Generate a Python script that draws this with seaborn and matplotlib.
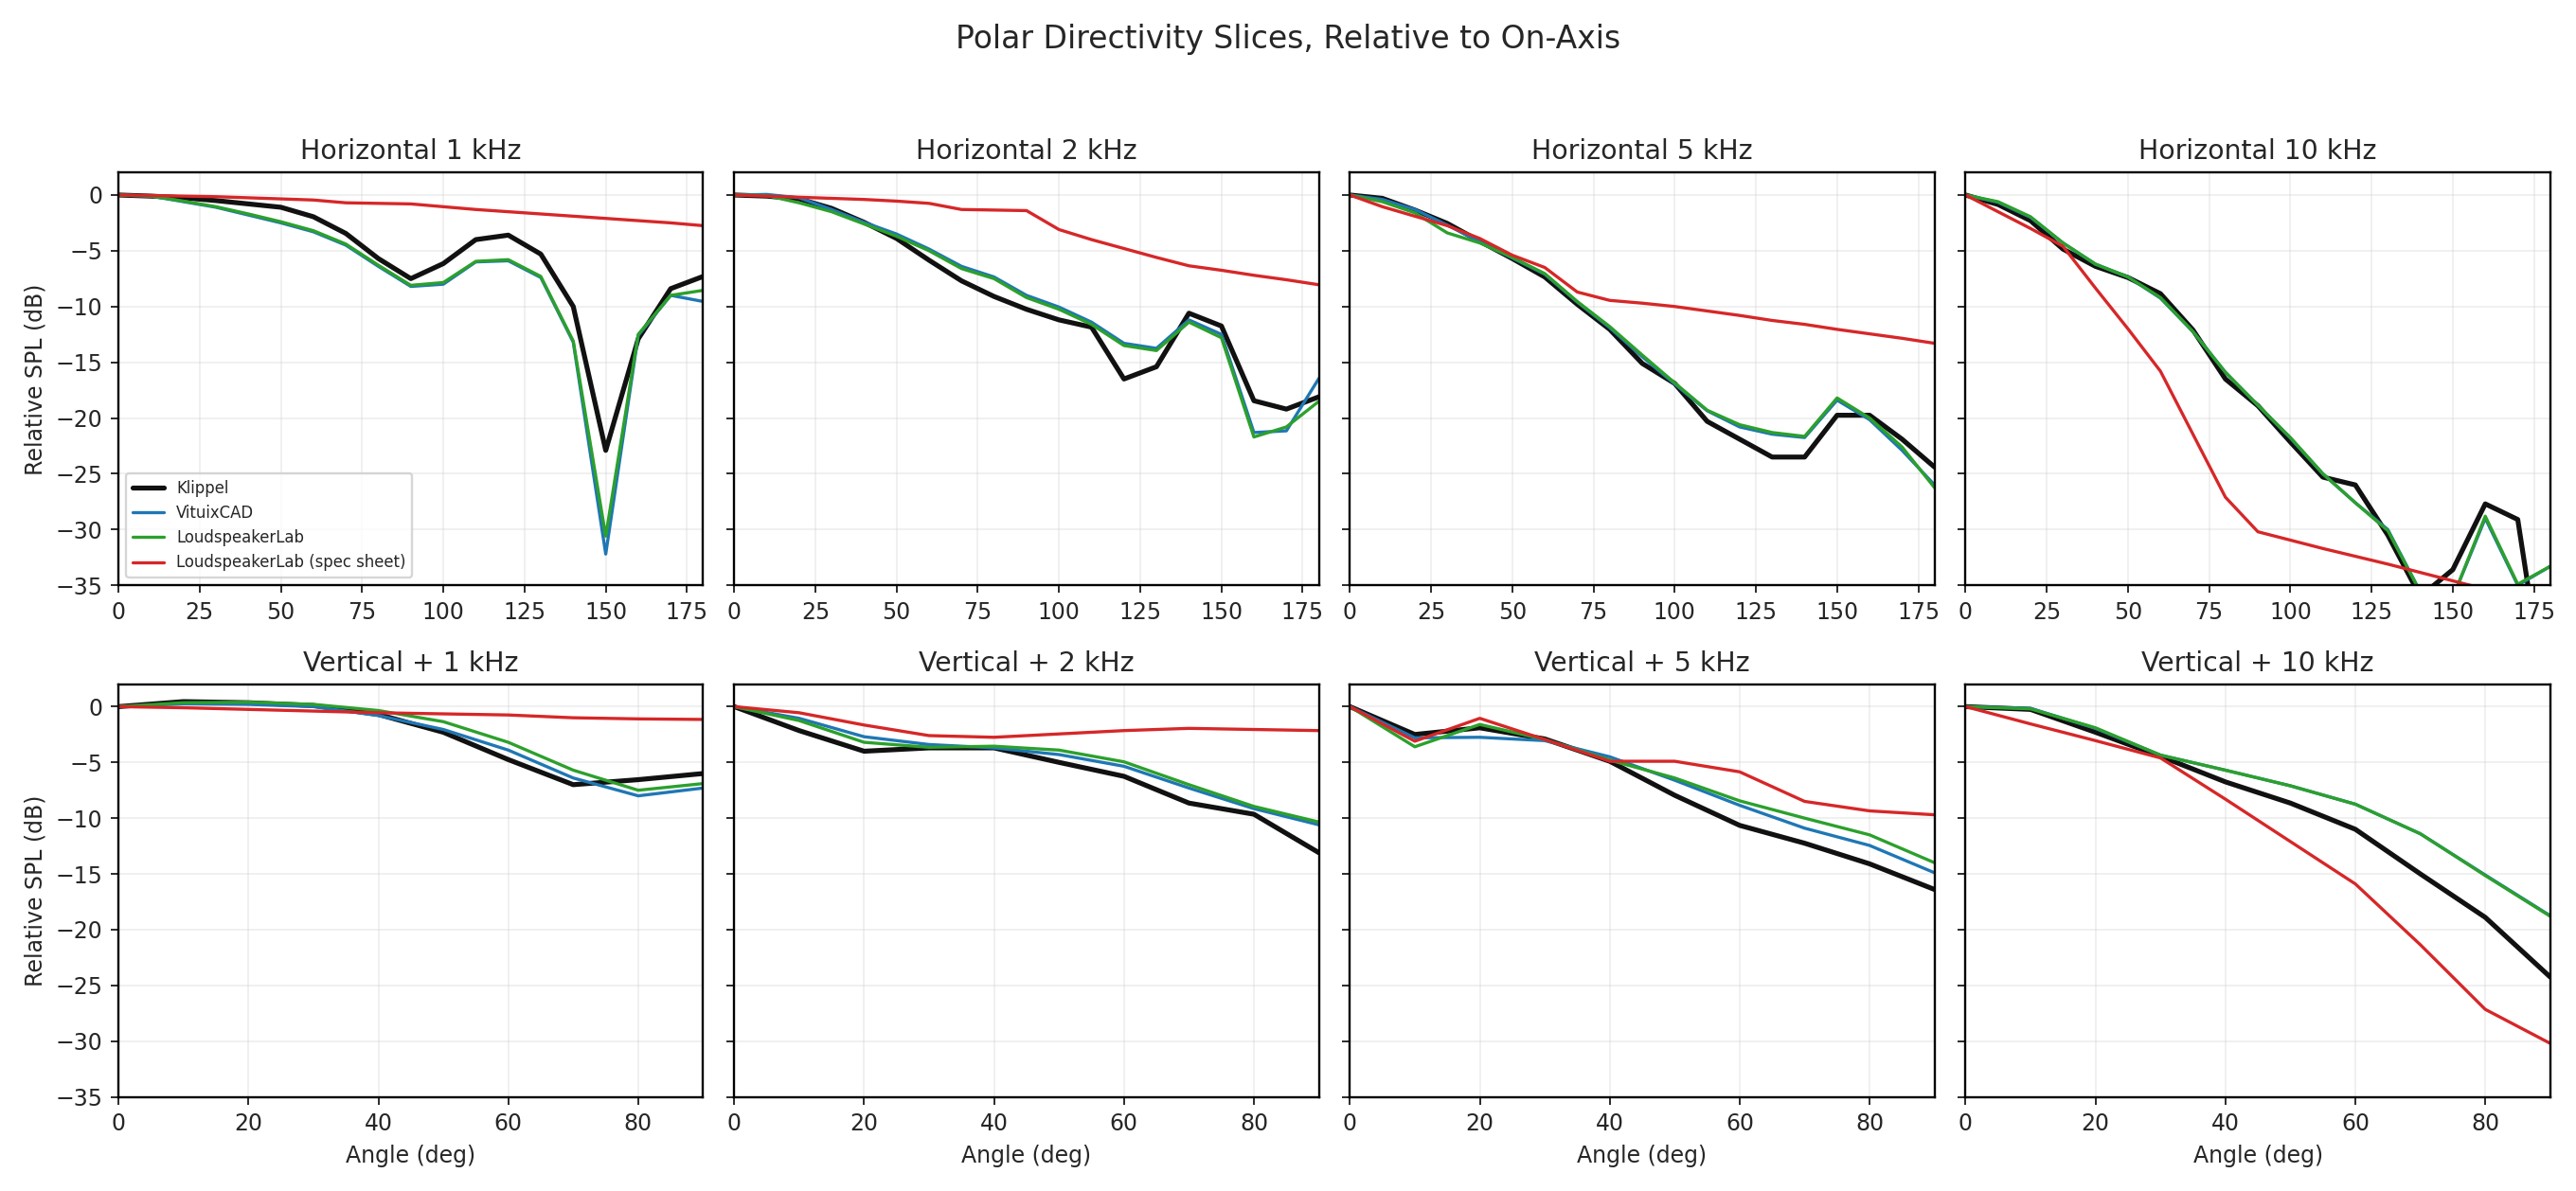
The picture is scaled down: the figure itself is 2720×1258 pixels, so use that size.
import numpy as np
import pandas as pd
import matplotlib
matplotlib.use("Agg")
import matplotlib.pyplot as plt
import seaborn as sns

# angles (deg)
h_angles = list(range(0, 181, 10))
v_angles = list(range(0, 91, 10))

# ---- Horizontal slices (relative dB) ----
h1k_klippel = [0, -0.1, -0.25, -0.5, -0.8, -1.1, -1.95, -3.45, -5.7, -7.5, -6.15, -4.0, -3.6, -5.3, -10.0, -22.9, -12.9, -8.4, -7.3]
h1k_vituix = [0, -0.1, -0.6, -1.1, -1.8, -2.5, -3.3, -4.5, -6.4, -8.2, -8.0, -6.0, -5.9, -7.4, -13.2, -32.2, -12.6, -9.0, -9.55]
h1k_lsl = [0, -0.1, -0.55, -1.05, -1.7, -2.4, -3.2, -4.4, -6.3, -8.1, -7.85, -5.95, -5.8, -7.3, -13.1, -30.6, -12.5, -9.0, -8.55]
h1k_spec = [0, -0.05, -0.1, -0.15, -0.25, -0.35, -0.45, -0.7, -0.75, -0.8, -1.05, -1.3, -1.5, -1.7, -1.9, -2.1, -2.3, -2.5, -2.75]

h2k_klippel = [0, -0.1, -0.35, -1.2, -2.45, -3.9, -5.85, -7.7, -9.1, -10.25, -11.2, -11.85, -16.5, -15.4, -10.6, -11.75, -18.45, -19.2, -18.1]
h2k_vituix = [0, 0.05, -0.25, -1.3, -2.45, -3.5, -4.85, -6.4, -7.35, -9.0, -10.05, -11.4, -13.3, -13.75, -11.2, -12.5, -21.3, -21.15, -16.45]
h2k_lsl = [0, -0.05, -0.7, -1.5, -2.6, -3.7, -5.0, -6.6, -7.5, -9.2, -10.25, -11.6, -13.5, -13.95, -11.4, -12.8, -21.7, -20.8, -18.5]
h2k_spec = [0, -0.1, -0.2, -0.3, -0.4, -0.55, -0.75, -1.3, -1.35, -1.4, -3.1, -4.0, -4.8, -5.6, -6.35, -6.75, -7.2, -7.6, -8.05]

h5k_klippel = [0, -0.3, -1.35, -2.55, -4.15, -5.7, -7.35, -9.8, -12.05, -15.1, -16.9, -20.3, -21.9, -23.5, -23.5, -19.75, -19.75, -21.9, -24.4]
h5k_vituix = [0, -0.4, -1.3, -2.7, -4.2, -5.65, -7.1, -9.6, -11.9, -14.5, -16.95, -19.35, -20.8, -21.45, -21.75, -18.4, -20.15, -22.9, -26.0]
h5k_lsl = [0, -0.6, -1.6, -3.4, -4.3, -5.6, -7.05, -9.55, -11.8, -14.35, -16.85, -19.3, -20.6, -21.3, -21.65, -18.2, -20.0, -22.6, -26.25]
h5k_spec = [0, -1.05, -1.9, -2.75, -3.9, -5.4, -6.5, -8.7, -9.45, -9.7, -10.0, -10.4, -10.8, -11.25, -11.6, -12.05, -12.45, -12.85, -13.3]

h10k_klippel = [0, -0.85, -2.3, -4.85, -6.4, -7.4, -8.85, -12.1, -16.5, -18.9, -22.15, -25.3, -26.0, -30.5, -36.0, -33.6, -27.7, -29.1, -48.0]
h10k_vituix = [0, -0.65, -2.0, -4.3, -6.2, -7.35, -9.25, -12.25, -15.9, -18.85, -21.8, -25.0, -27.6, -30.0, -35.6, -36.1, -29.0, -35.0, -33.3]
h10k_lsl = [0, -0.6, -1.95, -4.3, -6.2, -7.35, -9.2, -12.25, -15.9, -18.85, -21.75, -25.0, -27.6, -30.1, -35.6, -36.1, -28.8, -34.9, -33.3]
h10k_spec = [0, -1.5, -3.0, -4.6, -8.35, -12.0, -15.8, -21.45, -27.1, -30.2, -30.95, -31.7, -32.4, -33.1, -33.85, -34.6, -35.35, -36.1, -36.9]

# ---- Vertical + slices (relative dB) ----
v1k_klippel = [0, 0.45, 0.35, 0.1, -0.7, -2.3, -4.75, -7.0, -6.55, -6.0]
v1k_vituix = [0, 0.25, 0.2, 0.0, -0.8, -2.05, -3.9, -6.4, -8.0, -7.3]
v1k_lsl = [0, 0.35, 0.4, 0.2, -0.35, -1.35, -3.2, -5.7, -7.5, -6.9]
v1k_spec = [0, -0.1, -0.25, -0.4, -0.55, -0.65, -0.75, -1.0, -1.1, -1.15]

v2k_klippel = [0, -2.15, -4.0, -3.7, -3.7, -5.0, -6.25, -8.65, -9.65, -13.1]
v2k_vituix = [0, -1.05, -2.7, -3.4, -3.7, -4.3, -5.35, -7.3, -9.15, -10.6]
v2k_lsl = [0, -1.25, -3.2, -3.65, -3.55, -3.9, -4.95, -7.0, -8.95, -10.35]
v2k_spec = [0, -0.55, -1.65, -2.6, -2.75, -2.45, -2.15, -1.95, -2.05, -2.15]

v5k_klippel = [0, -2.5, -1.9, -2.9, -4.9, -7.95, -10.65, -12.25, -14.1, -16.4]
v5k_vituix = [0, -2.8, -2.75, -3.05, -4.5, -6.6, -8.85, -10.9, -12.45, -14.9]
v5k_lsl = [0, -3.6, -1.6, -2.95, -4.8, -6.4, -8.45, -10.0, -11.5, -14.0]
v5k_spec = [0, -3.1, -1.05, -2.95, -4.9, -4.9, -5.85, -8.5, -9.35, -9.7]

v10k_klippel = [0, -0.25, -2.3, -4.45, -6.75, -8.65, -11.0, -15.0, -18.9, -24.25]
v10k_vituix = [0, -0.15, -1.95, -4.35, -5.7, -7.1, -8.75, -11.4, -15.1, -18.75]
v10k_lsl = [0, -0.2, -1.9, -4.35, -5.7, -7.1, -8.75, -11.4, -15.15, -18.8]
v10k_spec = [0, -1.55, -3.05, -4.6, -8.3, -12.1, -15.9, -21.35, -27.15, -30.2]

panel_titles = ["Horizontal 1 kHz", "Horizontal 2 kHz", "Horizontal 5 kHz", "Horizontal 10 kHz",
                "Vertical + 1 kHz", "Vertical + 2 kHz", "Vertical + 5 kHz", "Vertical + 10 kHz"]
series_names = ["Klippel", "VituixCAD", "LoudspeakerLab", "LoudspeakerLab (spec sheet)"]
series_colors = ["#111111", "#1f77b4", "#2ca02c", "#d62728"]
series_widths = [2.2, 1.4, 1.4, 1.4]

panels = [
    (h_angles, [h1k_klippel, h1k_vituix, h1k_lsl, h1k_spec]),
    (h_angles, [h2k_klippel, h2k_vituix, h2k_lsl, h2k_spec]),
    (h_angles, [h5k_klippel, h5k_vituix, h5k_lsl, h5k_spec]),
    (h_angles, [h10k_klippel, h10k_vituix, h10k_lsl, h10k_spec]),
    (v_angles, [v1k_klippel, v1k_vituix, v1k_lsl, v1k_spec]),
    (v_angles, [v2k_klippel, v2k_vituix, v2k_lsl, v2k_spec]),
    (v_angles, [v5k_klippel, v5k_vituix, v5k_lsl, v5k_spec]),
    (v_angles, [v10k_klippel, v10k_vituix, v10k_lsl, v10k_spec]),
]

sns.set_style("ticks")
plt.rcParams['font.family'] = ['DejaVu Sans']

fig, axes = plt.subplots(2, 4, figsize=(16, 7.4), dpi=170, sharey=True)
fig.subplots_adjust(left=0.046, right=0.990, top=0.855, bottom=0.079, wspace=0.053, hspace=0.24)

for idx, (ax, (angles, curves)) in enumerate(zip(axes.flat, panels)):
    for name, vals, col, lw in zip(series_names, curves, series_colors, series_widths):
        df = pd.DataFrame({"angle": angles, "db": vals})
        sns.lineplot(data=df, x="angle", y="db", ax=ax, color=col, linewidth=lw,
                     label=name if idx == 0 else None, legend=False)
    ax.set_title(panel_titles[idx], fontsize=12)
    ax.grid(True, alpha=0.3)
    ax.set_ylim(-35, 2)
    ax.set_yticks(np.arange(-35, 1, 5))
    if idx < 4:
        ax.set_xlim(0, 180)
        ax.set_xticks(np.arange(0, 176, 25))
        ax.set_xlabel("")
    else:
        ax.set_xlim(0, 90)
        ax.set_xticks(np.arange(0, 81, 20))
        ax.set_xlabel("Angle (deg)", fontsize=10)
    if idx % 4 == 0:
        ax.set_ylabel("Relative SPL (dB)", fontsize=10)
    else:
        ax.set_ylabel("")
    ax.tick_params(labelsize=10)
    for sp in ax.spines.values():
        sp.set_linewidth(1.0)
        sp.set_color("black")

axes[0, 0].legend(loc="lower left", fontsize=7)
fig.suptitle("Polar Directivity Slices, Relative to On-Axis", fontsize=14, y=0.98)

plt.savefig("out.png")
plt.close()
